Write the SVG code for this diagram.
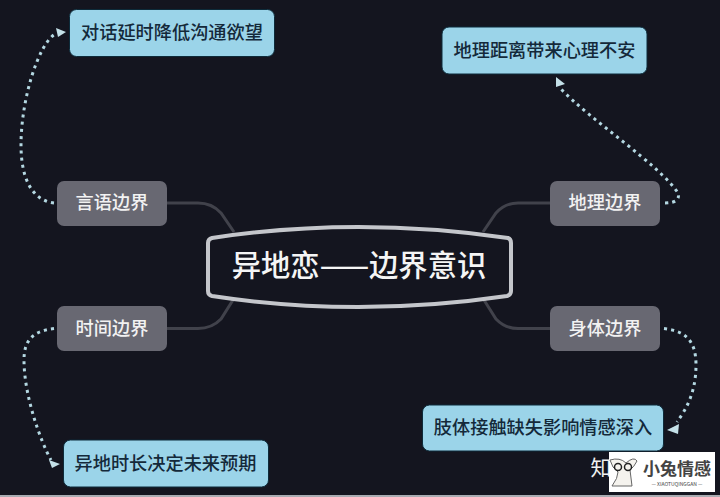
<svg xmlns="http://www.w3.org/2000/svg" width="720" height="497" viewBox="0 0 720 497">
<style>
text{font-family:"Noto Sans CJK SC","Liberation Sans",sans-serif;text-anchor:middle}
.leaf rect{fill:#9bd4e9;stroke:#0d2b3a;stroke-width:1}
.leaf text{fill:#14293a;font-size:18.200px;font-weight:500}
.branch rect{fill:#686872}
.branch text{fill:#f2f2f2;font-size:18.200px;font-weight:500}
.stem{fill:none;stroke:#41424b;stroke-width:3}
.dot{fill:none;stroke:#b4d8e2;stroke-width:3;stroke-dasharray:3 4.200}
.head{fill:#c4e0e8}
</style>
<rect width="720" height="497" fill="#14151f"/>
<rect y="495" width="720" height="2" fill="#a9acb2"/>
<g id="connectors">
<path class="stem" d="M167 203H198Q212 203 221 213L234 232"/>
<path class="stem" d="M167 328.500H198Q212 328.500 221 319L233 300"/>
<path class="stem" d="M550 203H518Q505 203 496 213L483 232"/>
<path class="stem" d="M550 328.500H518Q505 328.500 496 319L484 300"/>
<path class="dot" d="M54 203C30 200 21 175 21 145C21 100 38 45 55 34"/>
<polygon class="head" points="66,32 56,28 58,37"/>
<path class="dot" d="M665 203C676 203 680 199 678 193C660 165 590 120 560 88"/>
<polygon class="head" points="556,77 556,87 565,84"/>
<path class="dot" d="M54 328.500C33 331 24 340 24 360C24 395 40 440 51 460"/>
<polygon class="head" points="60,464 49,460 52,468"/>
<path class="dot" d="M664 328.500C685 331 696 340 696 365C696 395 684 412 677 422"/>
<polygon class="head" points="667,430 679,424 678,434"/>
</g>
<g id="center">
<path d="M212 238Q357 216 508 238Q511 239 511 243V291Q511 295 507 296Q357 318 212 296Q208 295 208 291V243Q208 239 212 238Z" fill="#14151f" stroke="#c4c6cb" stroke-width="4"/>
<text x="359" y="276" font-size="29.300" font-weight="500" fill="#f5f5f5">异地恋——边界意识</text>
</g>
<g id="n1" class="branch"><rect x="57" y="181" width="110" height="45" rx="7"/><text x="112" y="209">言语边界</text></g>
<g id="n2" class="branch"><rect x="550" y="181" width="110" height="45" rx="7"/><text x="605" y="209">地理边界</text></g>
<g id="n3" class="branch"><rect x="57" y="306" width="110" height="45" rx="7"/><text x="112" y="335">时间边界</text></g>
<g id="n4" class="branch"><rect x="550" y="306" width="110" height="45" rx="7"/><text x="605" y="335">身体边界</text></g>
<g id="n5" class="leaf"><rect x="69.500" y="9.500" width="205" height="47" rx="7"/><text x="172" y="39">对话延时降低沟通欲望</text></g>
<g id="n6" class="leaf"><rect x="442" y="27" width="205" height="47" rx="7"/><text x="544.500" y="57">地理距离带来心理不安</text></g>
<g id="n7" class="leaf"><rect x="63.500" y="440" width="205" height="47" rx="7"/><text x="165.500" y="470">异地时长决定未来预期</text></g>
<g id="n8" class="leaf"><rect x="422.500" y="405" width="241" height="46" rx="7"/><text x="543" y="434">肢体接触缺失影响情感深入</text></g>
<text x="601" y="475" font-size="21" fill="#f0f0f0">知</text>
<rect x="609" y="452" width="106" height="40" fill="#ffffff"/>
<g id="mascot" fill="none" stroke="#666" stroke-width="1">
<path d="M610 460Q620 457 626 463Q634 456 637 461Q634 467 630 470L632 486H612Q618 478 618 472Q612 468 610 460Z" fill="#f5f3ee"/>
<circle cx="618" cy="467" r="3.500" stroke="#222" stroke-width="1.500"/>
<circle cx="628" cy="467" r="3.500" stroke="#222" stroke-width="1.500"/>
</g>
<text x="677" y="475" font-size="17" font-weight="700" fill="#444">小兔情感</text>
<text x="677" y="486" font-size="5" fill="#444">— XIAOTUQINGGAN —</text>
</svg>
